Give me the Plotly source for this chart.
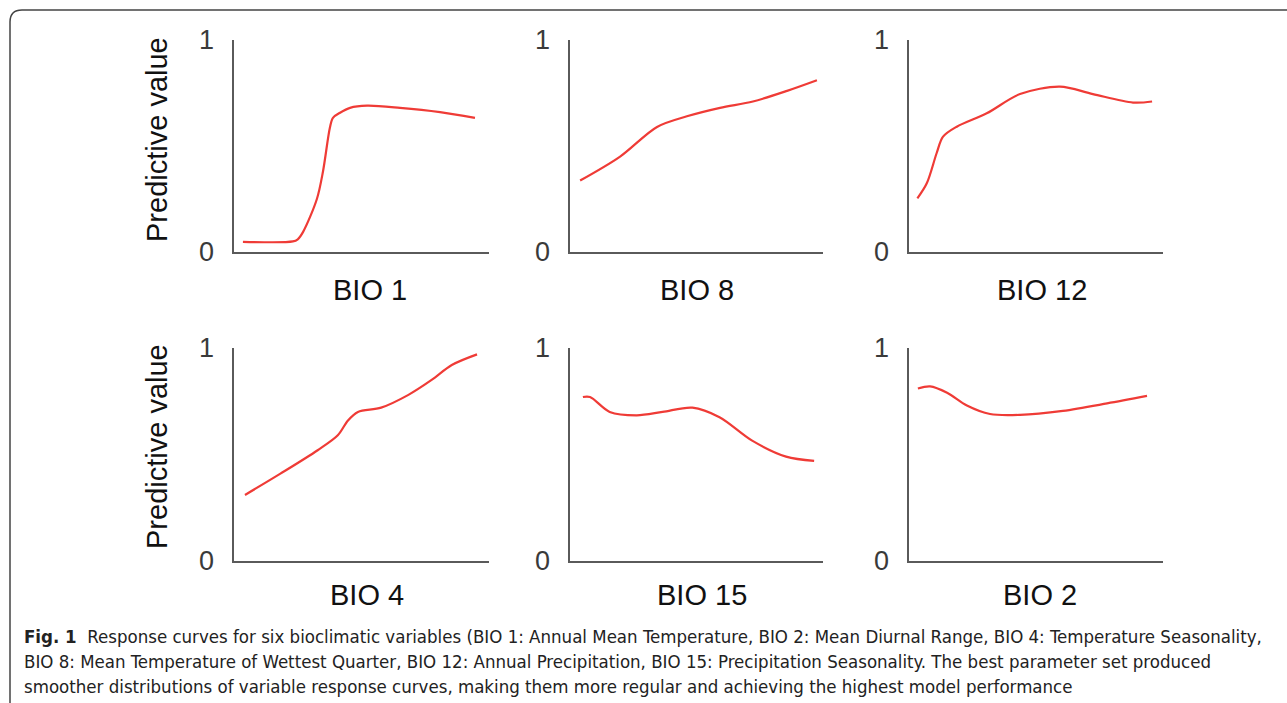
import plotly.graph_objects as go

W, H = 1287, 703

# ---- data (x normalised along each variable's axis, y = predictive value) ----
bio1_x = [0.035, 0.231, 0.25, 0.271, 0.325, 0.349, 0.376, 0.388, 0.416, 0.455, 0.522, 0.651, 0.808, 0.945]
bio1_y = [0.048, 0.05, 0.06, 0.095, 0.25, 0.38, 0.586, 0.633, 0.657, 0.68, 0.69, 0.68, 0.66, 0.633]

bio8_x = [0.040, 0.198, 0.344, 0.462, 0.593, 0.723, 0.858, 0.976]
bio8_y = [0.337, 0.45, 0.59, 0.64, 0.68, 0.71, 0.76, 0.81]

bio12_x = [0.033, 0.070, 0.109, 0.134, 0.188, 0.306, 0.437, 0.594, 0.724, 0.882, 0.957]
bio12_y = [0.253, 0.324, 0.467, 0.544, 0.591, 0.654, 0.745, 0.78, 0.745, 0.705, 0.71]

bio4_x = [0.043, 0.182, 0.328, 0.407, 0.447, 0.486, 0.577, 0.684, 0.775, 0.854, 0.953]
bio4_y = [0.31, 0.41, 0.52, 0.59, 0.66, 0.70, 0.72, 0.78, 0.85, 0.92, 0.97]

bio15_x = [0.051, 0.079, 0.157, 0.264, 0.366, 0.484, 0.591, 0.720, 0.854, 0.965]
bio15_y = [0.77, 0.77, 0.70, 0.684, 0.70, 0.72, 0.675, 0.565, 0.49, 0.47]

bio2_x = [0.035, 0.083, 0.150, 0.228, 0.319, 0.437, 0.606, 0.780, 0.937]
bio2_y = [0.81, 0.82, 0.79, 0.73, 0.69, 0.686, 0.705, 0.74, 0.775]

panel_names = ["BIO 1", "BIO 8", "BIO 12", "BIO 4", "BIO 15", "BIO 2"]
panel_data = [(bio1_x, bio1_y), (bio8_x, bio8_y), (bio12_x, bio12_y),
              (bio4_x, bio4_y), (bio15_x, bio15_y), (bio2_x, bio2_y)]
y_tick_vals = [0, 1]
y_tick_text = ["0", "1"]
y_title = "Predictive value"
caption_lines = [
    "<b>Fig. 1</b>  Response curves for six bioclimatic variables (BIO 1: Annual Mean Temperature, BIO 2: Mean Diurnal Range, BIO 4: Temperature Seasonality,",
    "BIO 8: Mean Temperature of Wettest Quarter, BIO 12: Annual Precipitation, BIO 15: Precipitation Seasonality. The best parameter set produced",
    "smoother distributions of variable response curves, making them more regular and achieving the highest model performance",
]

# ---- layout geometry (pixels) ----
cols = [(234, 489), (570, 823), (909, 1163)]
rows = [(40, 252), (348, 561)]
label_pos = [(370, 290), (697, 290), (1042, 290), (367, 595), (702, 595), (1040, 595)]

def px(x):
    return x / W

def py(y):
    return 1 - y / H

fig = go.Figure()
layout = dict(
    width=W, height=H,
    margin=dict(l=0, r=0, t=0, b=0, pad=0, autoexpand=False),
    paper_bgcolor="white", plot_bgcolor="white",
    showlegend=False,
    font=dict(family="Liberation Sans, Arial, sans-serif", color="#111"),
)

line_color = "#ef3b36"
annotations = []
for i, (name, (xs, ys)) in enumerate(zip(panel_names, panel_data)):
    r, c = divmod(i, 3)
    x0, x1 = cols[c]
    top, bot = rows[r]
    k = "" if i == 0 else str(i + 1)
    fig.add_trace(go.Scatter(
        x=xs, y=ys, mode="lines",
        line=dict(color=line_color, width=2.2, shape="spline", smoothing=0.9),
        xaxis="x" + k, yaxis="y" + k, hoverinfo="skip"))
    layout["xaxis" + k] = dict(
        domain=[px(x0), px(x1)], range=[0, 1], anchor="y" + k, automargin=False,
        showgrid=False, zeroline=False, showticklabels=False, ticks="",
        showline=True, linecolor="#5a5a5a", linewidth=1.6, fixedrange=True)
    layout["yaxis" + k] = dict(
        domain=[py(bot), py(top)], range=[0, 1], anchor="x" + k, automargin=False,
        showgrid=False, zeroline=False, ticks="",
        tickvals=y_tick_vals, ticktext=y_tick_text,
        tickfont=dict(size=27, color="#3a3a3a", family="Liberation Sans, Arial, sans-serif"),
        ticklabelstandoff=13,
        showline=True, linecolor="#5a5a5a", linewidth=1.6, fixedrange=True)
    lx, ly = label_pos[i]
    annotations.append(dict(
        text=name, x=px(lx), y=py(ly), xref="paper", yref="paper",
        showarrow=False, xanchor="center", yanchor="middle",
        font=dict(size=29, color="#111111", family="Liberation Sans, Arial, sans-serif")))

for yc in (140, 447):
    annotations.append(dict(
        text=y_title, x=px(157), y=py(yc), xref="paper", yref="paper",
        showarrow=False, textangle=-90, xanchor="center", yanchor="middle",
        font=dict(size=29, color="#111111", family="Liberation Sans, Arial, sans-serif")))

for line, yc in zip(caption_lines, (636, 661, 686)):
    annotations.append(dict(
        text=line, x=px(22), y=py(yc), xref="paper", yref="paper",
        showarrow=False, xanchor="left", yanchor="middle", align="left",
        font=dict(size=18.5, color="#222222",
                  family="Liberation Sans Narrow, Arial Narrow, DejaVu Sans Condensed, sans-serif")))

layout["annotations"] = annotations

# rounded border (open on right/bottom, cropped by image edge)
bx, by, rad = 10, 10, 12
path = (f"M {px(bx)},{py(H + 20)} L {px(bx)},{py(by + rad)} "
        f"Q {px(bx)},{py(by)} {px(bx + rad)},{py(by)} L {px(W + 20)},{py(by)}")
layout["shapes"] = [dict(type="path", path=path, xref="paper", yref="paper",
                         line=dict(color="#444444", width=1.5))]

fig.update_layout(**layout)
fig.write_html("out.html", config={"displayModeBar": False, "staticPlot": True},
               post_script="document.body.style.margin='0';document.body.style.overflow='hidden';")
